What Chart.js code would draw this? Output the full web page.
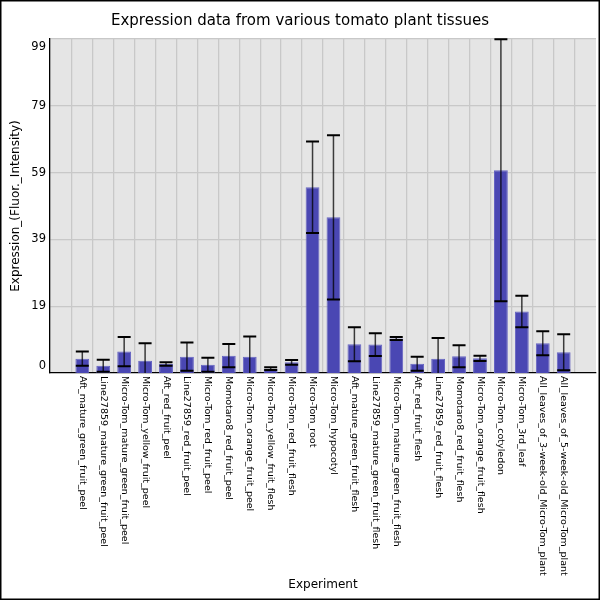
<!DOCTYPE html>
<html>
<head>
<meta charset="utf-8">
<script src="https://cdn.jsdelivr.net/npm/chart.js@4.4.1/dist/chart.umd.min.js"></script>
<style>
	html, body { margin: 0; padding: 0; background: #fff; }
	canvas { display: block; }
</style>
</head>
<body>
<canvas id="myChart" width="600" height="600"></canvas>
<script>
// Datos
const experiments = [
	"Aft_mature_green_fruit_peel",
	"Line27859_mature_green_fruit_peel",
	"Micro-Tom_mature_green_fruit_peel",
	"Micro-Tom_yellow_fruit_peel",
	"Aft_red_fruit_peel",
	"Line27859_red_fruit_peel",
	"Micro-Tom_red_fruit_peel",
	"Momotaro8_red_fruit_peel",
	"Micro-Tom_orange_fruit_peel",
	"Micro-Tom_yellow_fruit_flesh",
	"Micro-Tom_red_fruit_flesh",
	"Micro-Tom_root",
	"Micro-Tom_hypocotyl",
	"Aft_mature_green_fruit_flesh",
	"Line27859_mature_green_fruit_flesh",
	"Micro-Tom_mature_green_fruit_flesh",
	"Aft_red_fruit_flesh",
	"Line27859_red_fruit_flesh",
	"Momotaro8_red_fruit_flesh",
	"Micro-Tom_orange_fruit_flesh",
	"Micro-Tom_cotyledon",
	"Micro-Tom_3rd_leaf",
	"All_leaves_of_3-week-old_Micro-Tom_plant",
	"All_leaves_of_5-week-old_Micro-Tom_plant",
];
const expression = [3.3, 1.2, 5.4, 2.7, 1.7, 3.9, 1.5, 4.2, 3.9, 0.3, 2.2, 54.6, 45.6, 7.6, 7.5, 9.3, 1.8, 3.3, 4.0, 3.4, 59.7, 17.4, 7.9, 5.2];
const stdDev = [2.1, 1.8, 4.4, 5.2, 0.5, 4.2, 2.1, 3.5, 6.0, 0.4, 0.7, 13.7, 24.6, 5.1, 3.4, 0.45, 2.1, 6.2, 3.3, 0.8, 39.2, 4.7, 3.6, 5.4];
const yTicks = [0, 19, 39, 59, 79, 99];

const FONT = "DejaVu Sans";

// fondo gris del area del grafico y marco exterior
const backgroundPlugin = {
	id: "background",
	beforeDraw(chart) {
		const { ctx, chartArea: a } = chart;
		ctx.save();
		ctx.fillStyle = "#fff";
		ctx.fillRect(0, 0, chart.width, chart.height);
		ctx.fillStyle = "#e5e5e5";
		ctx.fillRect(a.left, a.top, a.right - a.left, a.bottom - a.top);
		ctx.restore();
	},
	afterDraw(chart) {
		const ctx = chart.ctx;
		ctx.save();
		ctx.strokeStyle = "#000";
		ctx.lineWidth = 1.5;
		ctx.strokeRect(0.75, 0.75, chart.width - 1.5, chart.height - 1.5);
		ctx.restore();
	},
};

// barras de error
const errorBarPlugin = {
	id: "errorBars",
	afterDatasetsDraw(chart) {
		const { ctx, chartArea: a, scales } = chart;
		ctx.save();
		ctx.beginPath();
		ctx.rect(a.left, a.top - 1, a.right - a.left, a.bottom - a.top + 1);
		ctx.clip();
		expression.forEach((v, i) => {
			const x = scales.x.getPixelForValue(i + 1);
			const yTop = scales.y.getPixelForValue(v + stdDev[i]);
			const yBot = scales.y.getPixelForValue(v - stdDev[i]);
			ctx.strokeStyle = "rgba(0,0,0,0.75)";
			ctx.lineWidth = 1.5;
			ctx.beginPath();
			ctx.moveTo(x, yTop);
			ctx.lineTo(x, yBot);
			ctx.stroke();
			ctx.strokeStyle = "#000";
			ctx.lineWidth = 2;
			ctx.beginPath();
			ctx.moveTo(x - 6.5, yTop);
			ctx.lineTo(x + 6.5, yTop);
			ctx.moveTo(x - 6.5, yBot);
			ctx.lineTo(x + 6.5, yBot);
			ctx.stroke();
		});
		ctx.restore();
	},
};

// etiquetas de los ejes: x giradas 90 grados, y mantenidas dentro del area
const axisLabelPlugin = {
	id: "axisLabels",
	afterDraw(chart) {
		const { ctx, chartArea: a, scales } = chart;
		ctx.save();
		ctx.fillStyle = "#000";
		ctx.font = "9.5px '" + FONT + "'";
		ctx.textAlign = "left";
		ctx.textBaseline = "middle";
		experiments.forEach((name, i) => {
			const x = scales.x.getPixelForValue(i + 1);
			ctx.save();
			ctx.translate(x, a.bottom + 3);
			ctx.rotate(Math.PI / 2);
			ctx.fillText(name, 0, 0);
			ctx.restore();
		});
		ctx.font = "11.5px '" + FONT + "'";
		ctx.textAlign = "right";
		yTicks.forEach((t) => {
			let y = scales.y.getPixelForValue(t);
			y = Math.min(Math.max(y, a.top + 8), a.bottom - 7);
			ctx.fillText(String(t), a.left - 4, y);
		});
		ctx.restore();
	},
};

const ctx = document.getElementById("myChart").getContext("2d");
let myChart = new Chart(ctx, {
	type: "bar",
	data: {
		datasets: [
			{
				label: "Expression",
				data: expression.map((v, i) => ({ x: i + 1, y: v })),
				backgroundColor: "#4a47b3",
				borderColor: "#6664c2",
				borderWidth: 1,
				base: -1,
				barPercentage: 0.66,
				categoryPercentage: 1,
			},
		],
	},
	options: {
		responsive: false,
		animation: false,
		layout: { padding: { left: 4, right: 4, top: 0, bottom: 0 } },
		plugins: {
			legend: { display: false },
			tooltip: { enabled: false },
			title: {
				display: true,
				text: "Expression data from various tomato plant tissues",
				color: "#000",
				font: { family: FONT, size: 15, weight: "normal" },
				padding: { top: 12.5, bottom: 8.5 },
			},
		},
		scales: {
			x: {
				type: "linear",
				min: 0,
				max: 25,
				afterBuildTicks: (scale) => {
					scale.ticks = experiments.map((_, i) => ({ value: i + 1 }));
				},
				afterFit: (scale) => {
					scale.height = 227;
				},
				ticks: { display: false },
				grid: { color: "#c8c8c8", lineWidth: 1.3, drawTicks: false },
				border: { color: "#000", width: 1.3 },
				title: {
					display: true,
					text: "Experiment",
					color: "#000",
					font: { family: FONT, size: 12 },
					padding: { top: 4, bottom: 7.8 },
				},
			},
			y: {
				min: -1,
				max: 99,
				afterBuildTicks: (scale) => {
					scale.ticks = yTicks.map((v) => ({ value: v }));
				},
				afterFit: (scale) => {
					scale.width = 46;
				},
				ticks: { display: false },
				grid: {
					color: (c) => (c.tick && c.tick.value === 0 ? "rgba(0,0,0,0)" : "#c8c8c8"),
					lineWidth: 1.3,
					drawTicks: false,
				},
				border: { color: "#000", width: 1.3 },
				title: {
					display: true,
					text: "Expression_(Fluor._Intensity)",
					color: "#000",
					font: { family: FONT, size: 12 },
					padding: { top: 5.1, bottom: 2 },
				},
			},
		},
	},
	plugins: [backgroundPlugin, errorBarPlugin, axisLabelPlugin],
});
</script>
</body>
</html>
